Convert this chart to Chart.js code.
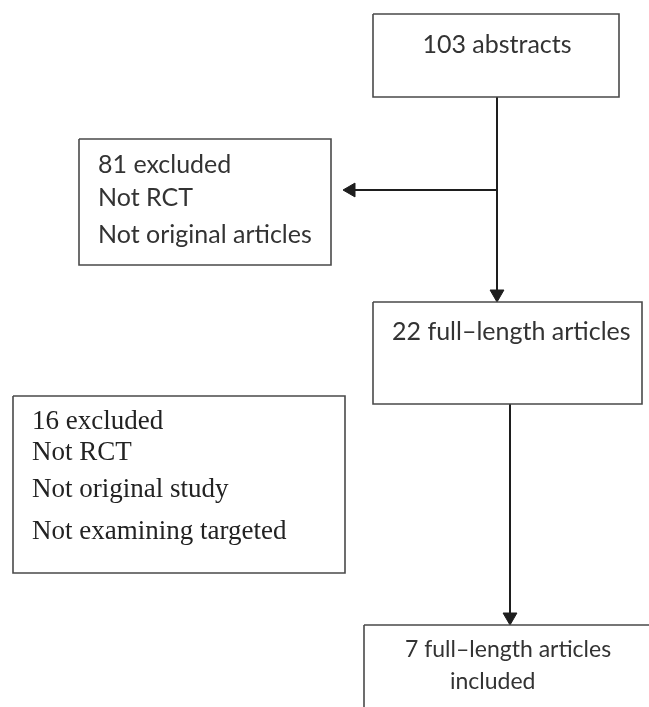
<!DOCTYPE html>
<html>
<head>
<meta charset="utf-8">
<script src="https://cdn.jsdelivr.net/npm/chart.js@4.4.0/dist/chart.umd.min.js"></script>
<style>
  html, body { margin: 0; padding: 0; background: #fff; }
  #wrap { width: 649px; height: 707px; }
</style>
</head>
<body>
<div id="wrap"><canvas id="flow"></canvas></div>
<script>
// Flow chart content
const stageCounts = [103, 81, 22, 16, 7];
const stageText = [
    ['103 abstracts'],
    ['81 excluded', 'Not RCT', 'Not original articles'],
    ['22 full\u2013length articles'],
    ['16 excluded', 'Not RCT', 'Not original study', 'Not examining targeted'],
    ['7 full\u2013length articles', 'included']
];

// Layout in axis units (axes run 0..649 and 0..707, y downwards)
const boxes = [
    { x0: 373, y0: 14, x1: 619, y1: 97 },
    { x0: 79, y0: 139, x1: 331, y1: 265 },
    { x0: 373, y0: 302, x1: 642, y1: 404 },
    { x0: 13, y0: 396, x1: 345, y1: 573 },
    { x0: 364, y0: 625, x1: 670, y1: 730 }
];
const textSpots = [
    { align: 'center', x: 497, y: [45], font: 'Lato', size: 25 },
    { align: 'left', x: 98, y: [165, 198, 235], font: 'Lato', size: 25 },
    { align: 'left', x: 392, y: [332], font: 'Lato', size: 25 },
    { align: 'left', x: 32, y: [422, 453, 490, 532], font: 'Liberation Serif', size: 27 },
    { align: 'left', x: 405, y: [650, 682], font: 'Lato', size: 23, indent: [0, 45] }
];
const arrows = [
    { from: [497, 97], to: [497, 302], rot: 180 },
    { from: [497, 190], to: [343, 190], rot: 270 },
    { from: [510, 404], to: [510, 625], rot: 180 }
];
const headSize = 8;

function boxDataset(b) {
    return {
        type: 'line',
        data: [
            { x: b.x0, y: b.y0 }, { x: b.x1, y: b.y0 },
            { x: b.x1, y: b.y1 }, { x: b.x0, y: b.y1 }, { x: b.x0, y: b.y0 }
        ],
        borderColor: '#4a4a4a',
        borderWidth: 1.6,
        pointRadius: 0,
        tension: 0
    };
}

function arrowDataset(a) {
    const dx = Math.sign(a.to[0] - a.from[0]);
    const dy = Math.sign(a.to[1] - a.from[1]);
    // triangle marker is centred on its point, so pull it back by its radius
    const head = { x: a.to[0] - dx * headSize, y: a.to[1] - dy * headSize };
    return {
        type: 'line',
        data: [{ x: a.from[0], y: a.from[1] }, { x: a.to[0] - dx * 4, y: a.to[1] - dy * 4 }, head],
        borderColor: '#1e1e1e',
        borderWidth: 2,
        pointStyle: 'triangle',
        pointRotation: a.rot,
        pointRadius: (ctx) => ctx.dataIndex === 2 ? headSize : 0,
        pointBackgroundColor: '#1e1e1e',
        pointBorderColor: '#1e1e1e',
        pointBorderWidth: 1,
        showLine: true,
        tension: 0
    };
}

const labelPlugin = {
    id: 'boxLabels',
    afterDatasetsDraw(chart) {
        const ctx = chart.ctx;
        const xs = chart.scales.x;
        const ys = chart.scales.y;
        ctx.save();
        ctx.textBaseline = 'middle';
        stageText.forEach((lines, i) => {
            const t = textSpots[i];
            ctx.font = `${t.size}px "${t.font}"`;
            ctx.fillStyle = t.font === 'Liberation Serif' ? '#222' : '#333';
            ctx.textAlign = t.align;
            lines.forEach((line, j) => {
                const off = t.indent ? t.indent[j] : 0;
                ctx.fillText(line, xs.getPixelForValue(t.x + off), ys.getPixelForValue(t.y[j]));
            });
        });
        ctx.restore();
    }
};

const datasets = boxes.map(boxDataset).concat(arrows.map(arrowDataset));

new Chart(document.getElementById('flow'), {
    type: 'scatter',
    data: { datasets: datasets },
    options: {
        responsive: true,
        maintainAspectRatio: false,
        animation: false,
        layout: { padding: 0, autoPadding: false },
        plugins: {
            legend: { display: false },
            tooltip: { enabled: false }
        },
        scales: {
            x: { type: 'linear', min: 0, max: 649, display: false },
            y: { type: 'linear', min: 0, max: 707, reverse: true, display: false }
        }
    },
    plugins: [labelPlugin]
});
</script>
</body>
</html>
